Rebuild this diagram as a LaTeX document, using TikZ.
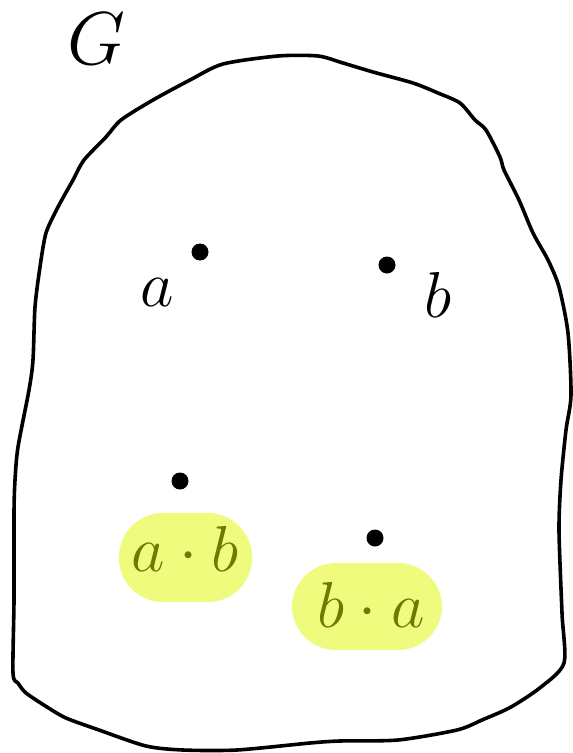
\RequirePackage{fix-cm}
\documentclass[tikz,border=0pt]{standalone}
\usepackage{amsmath,amssymb}
\usepackage{xcolor}
\usepackage{tikz}
\usetikzlibrary{positioning,calc}

\definecolor{hlfill}{RGB}{238,251,125}
\definecolor{hltext}{RGB}{108,122,0}

\begin{document}
\begin{tikzpicture}[x=1pt, y=-1pt,
  dot/.style={circle, fill=black, inner sep=0pt, minimum size=17pt},
  lbl/.style={inner sep=0pt, font=\fontsize{65pt}{78pt}\selectfont},
  hlbox/.style={fill=hlfill, rounded corners=44pt},
  hllbl/.style={lbl, text=hltext}]
  \useasboundingbox (0,0) rectangle (573,753);
  \draw[line width=3.6pt, line join=round] plot[smooth cycle, tension=0.45] coordinates {
    (278,56) (318,56) (343,63) (373,72) (413,83) (438,93) (460,103) (475,120)
    (486,130) (500,157) (504,170) (519,200) (533,233) (548,260) (559,287)
    (568,333) (571,395) (566,430) (561,480) (559,530) (562,613) (564,663)
    (541,687) (511,707) (482,720) (457,730) (398,740) (340,741) (310,743)
    (237,750) (183,750) (146,746) (99,730) (66,718) (47,707) (26,693) (18,683)
    (13,673) (14,600) (14,513) (15,480) (18,447) (29,390) (33,360) (35,307)
    (40,267) (46,233) (58,207) (73,180) (84,160) (106,137) (121,120) (153,100)
    (190,80) (223,64)};
  \node[lbl, font=\fontsize{75pt}{90pt}\selectfont](g) at (96,39){$G$};
  \foreach \n/\x/\y in {pa/200/252, pb/387/265, pab/180/481, pba/375/538}
    \node[dot](\n) at (\x,\y){};
  \node[lbl](la) at (157,293){$a$};
  \node[lbl](lb) at (438,295){$b$};
  \fill[hlbox] (119,513) rectangle (252,602);
  \fill[hlbox] (292,563) rectangle (442,650);
  \node[hllbl](ab) at (185,549){$a\cdot b$};
  \node[hllbl](ba) at (371,605){$b\cdot a$};
\end{tikzpicture}
\end{document}
